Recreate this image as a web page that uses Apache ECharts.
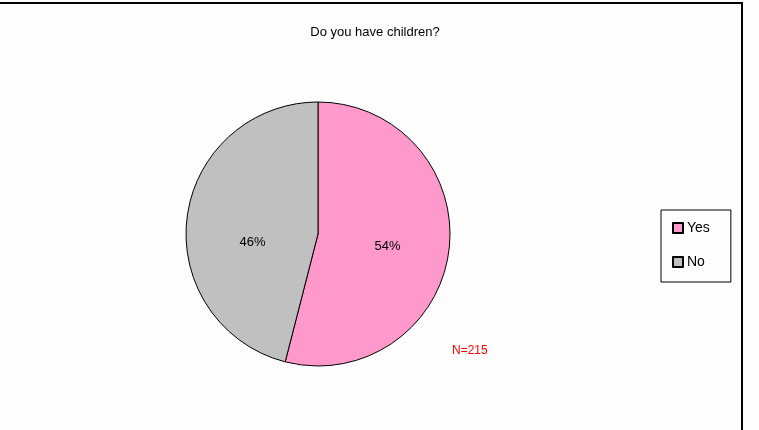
<!DOCTYPE html>
<html><head><meta charset="utf-8">
<script src="https://cdn.jsdelivr.net/npm/echarts@6/dist/echarts.min.js"></script>
<style>html,body{margin:0;padding:0;background:#fdfdfd}#c{width:759px;height:430px}</style>
</head><body><div id="c"></div>
<script>
const categories = ['Yes', 'No'];
const values = [54, 46];
const colors = ['#ff99cc', '#c0c0c0'];
const titleText = 'Do you have children?';
const noteText = 'N=215';

const labelOffsets = [[1, 4], [3, 17]];

const chart = echarts.init(document.getElementById('c'), null, {renderer: 'canvas'});
chart.setOption({
  backgroundColor: '#fdfdfd',
  animation: false,
  title: {
    text: titleText, left: 370, top: 21, textAlign: 'center',
    textStyle: {fontFamily: 'Liberation Sans, Arial', fontSize: 13, fontWeight: 'normal', color: '#000'}
  },
  legend: {
    orient: 'vertical', left: 661, top: 210,
    padding: [10, 21, 12, 11], itemGap: 18,
    borderColor: '#000', borderWidth: 1,
    itemWidth: 10, itemHeight: 10, icon: 'rect',
    textStyle: {fontFamily: 'Liberation Sans, Arial', fontSize: 14, lineHeight: 16, color: '#000', padding: [0, 0, 0, -1]},
    data: categories
  },
  graphic: [
    {type: 'line', shape: {x1: 0, y1: 3, x2: 743, y2: 3}, style: {stroke: '#000', lineWidth: 2}},
    {type: 'line', shape: {x1: 742, y1: 2, x2: 742, y2: 430}, style: {stroke: '#000', lineWidth: 2}},
    {type: 'text', left: 452, top: 345, style: {text: noteText, fill: '#ff0000', font: '12px Liberation Sans, Arial'}}
  ],
  series: [{
    type: 'pie',
    center: [318, 234],
    radius: 132,
    startAngle: 90,
    clockwise: true,
    itemStyle: {borderColor: '#000', borderWidth: 1},
    label: {
      position: 'inside', formatter: '{d}%',
      fontFamily: 'Liberation Sans, Arial', fontSize: 13, color: '#000'
    },
    labelLine: {show: false},
    emphasis: {disabled: true},
    data: categories.map((c, i) => ({
      name: c, value: values[i],
      itemStyle: {color: colors[i]},
      label: {offset: labelOffsets[i]}
    }))
  }]
});
</script></body></html>
